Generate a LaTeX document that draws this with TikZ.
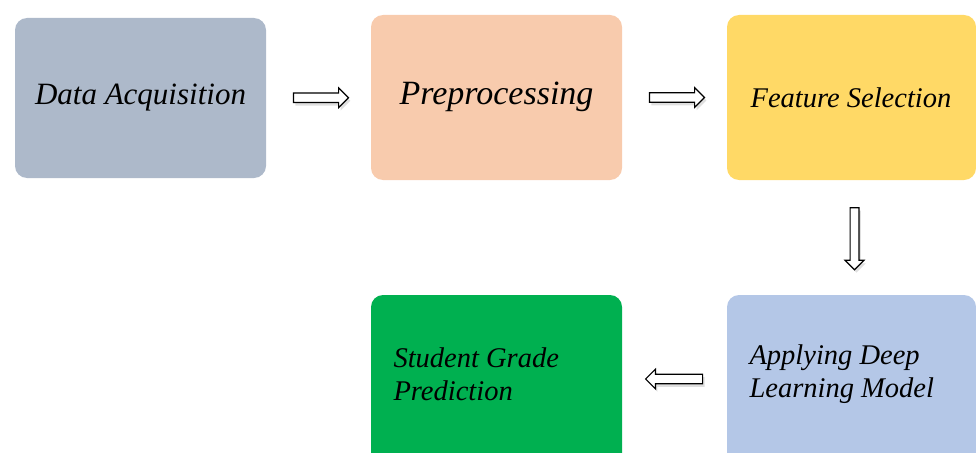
\documentclass[tikz,border=0pt]{standalone}
\usepackage{fontspec}
\newfontfamily\lblfont{Liberation Serif}[ItalicFont={Liberation Serif Italic}]
\usetikzlibrary{shapes.arrows,shadows,calc}
\definecolor{cDA}{HTML}{ADB9CA}
\definecolor{cPP}{HTML}{F8CBAD}
\definecolor{cFS}{HTML}{FFD966}
\definecolor{cDL}{HTML}{B4C7E7}
\definecolor{cSG}{HTML}{00B050}
\tikzset{
  stagebox/.style={rectangle, rounded corners=12pt, draw=none, minimum width=251pt, minimum height=163pt, inner sep=0pt},
  flowarrow/.style={single arrow, draw=black, fill=white, line width=1.2pt, single arrow head extend=5pt, inner sep=4.2pt, minimum height=55pt, drop shadow={shadow xshift=2pt, shadow yshift=-3pt, opacity=0.25}}
}
\begin{document}
\begin{tikzpicture}[x=1pt,y=-1pt]
\useasboundingbox (0,0) rectangle (976,452);
\begin{scope}
\clip (0,0) rectangle (976,452);
\node[stagebox, fill=cDA, minimum height=160pt] (da) at (140.5,98) {};
\node[stagebox, fill=cPP, minimum height=165pt] (pp) at (496.5,97.5) {};
\node[stagebox, fill=cFS, minimum width=249pt, minimum height=165pt] (fs) at (851.5,97.5) {};
\node[stagebox, fill=cDL, minimum width=249pt, minimum height=180pt] (dl) at (851.5,385) {};
\node[stagebox, fill=cSG, minimum height=180pt] (sg) at (496.5,385) {};
\end{scope}
\node[font=\lblfont\itshape\fontsize{31}{34}\selectfont] (tda) at (140.5,98) {Data Acquisition};
\node[font=\lblfont\itshape\fontsize{34}{38}\selectfont] (tpp) at (496.5,97) {Preprocessing};
\node[font=\lblfont\itshape\fontsize{28.5}{32}\selectfont] (tfs) at (851,98) {Feature Selection};
\node[font=\lblfont\itshape\fontsize{28.5}{33}\selectfont, align=left, anchor=west] (tdl) at (746,374) {Applying Deep\\Learning Model};
\node[font=\lblfont\itshape\fontsize{28.5}{33}\selectfont, align=left, anchor=west] (tsg) at (390,374) {Student Grade\\Prediction};
\node[flowarrow] (a1) at ($(da.east)!0.5!(pp.west)$) {};
\node[flowarrow] (a2) at ($(pp.east)!0.5!(fs.west)$) {};
\node[flowarrow, shape border rotate=270, minimum height=62pt, inner sep=3.8pt] (a3) at ($(fs.south)!0.5!(dl.north)+(3,-1)$) {};
\node[flowarrow, shape border rotate=180, minimum height=57pt] (a4) at ($(dl.west)!0.5!(sg.east)+(2,-6)$) {};
\end{tikzpicture}
\end{document}
